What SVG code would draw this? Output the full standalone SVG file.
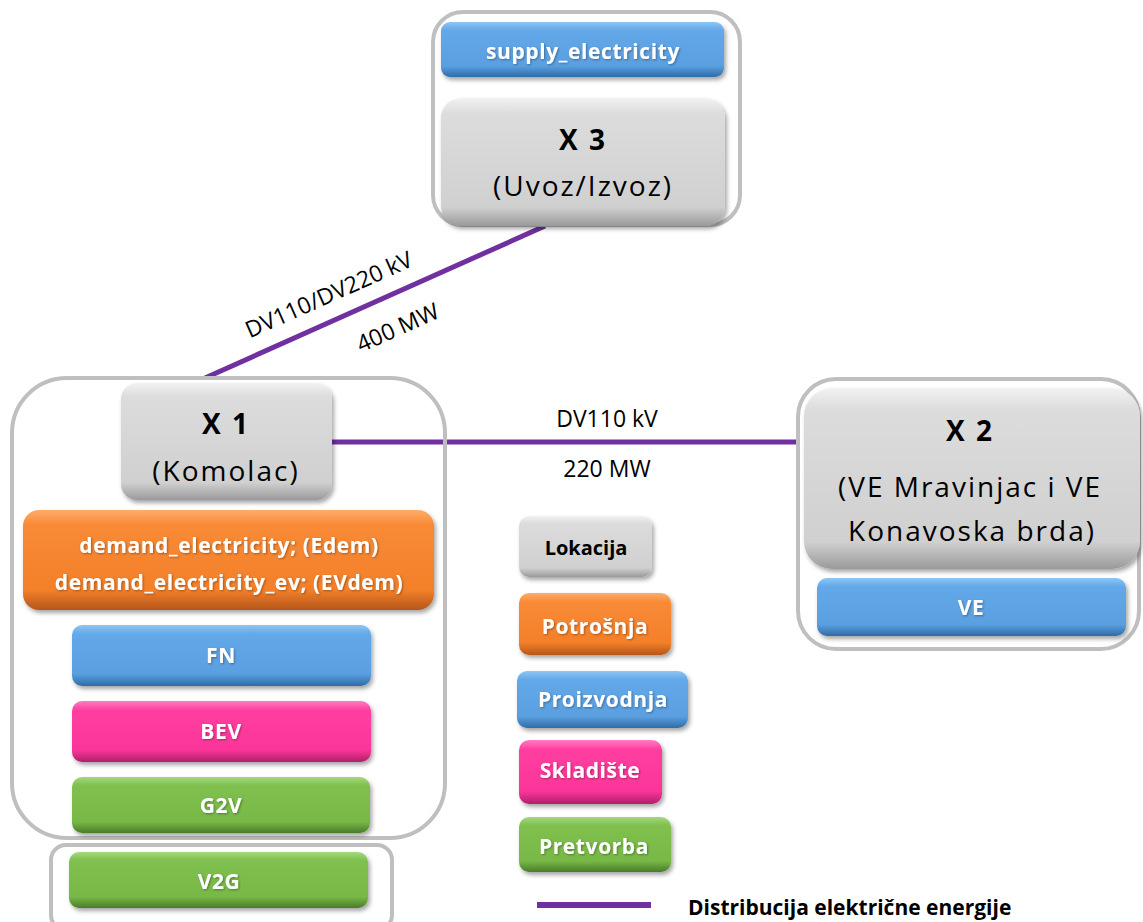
<svg xmlns="http://www.w3.org/2000/svg" width="1143" height="922" viewBox="0 0 1143 922">
<style>
.cont{fill:none;stroke:#bfbfbf;stroke-width:4}
.t{font-family:"Open Sans","Liberation Sans",sans-serif;text-anchor:middle}
.b{font-weight:bold}
.big{font-size:28px;letter-spacing:2px}
.w{fill:#ffffff;font-weight:bold;font-size:21px;letter-spacing:0.6px}
.k{fill:#000000}
.conn{stroke:#7030a0;stroke-width:5;fill:none}
.lbl{font-family:"Open Sans","Liberation Sans",sans-serif;font-size:23px;fill:#000;text-anchor:middle}
</style>
<defs>
<filter id="sh" x="-10%" y="-10%" width="125%" height="135%">
<feDropShadow dx="2" dy="3" stdDeviation="2" flood-color="#000" flood-opacity="0.35"/>
</filter>
<filter id="ts" x="-10%" y="-20%" width="130%" height="150%">
<feDropShadow dx="1" dy="1" stdDeviation="0.8" flood-color="#000" flood-opacity="0.35"/>
</filter>
<linearGradient id="gGray" x1="0" y1="0" x2="0" y2="1">
<stop offset="0" stop-color="#f2f2f2"/><stop offset="0.12" stop-color="#dcdcdc"/><stop offset="0.85" stop-color="#d0d0d0"/><stop offset="1" stop-color="#9a9a9a"/>
</linearGradient>
<linearGradient id="gBlue" x1="0" y1="0" x2="0" y2="1">
<stop offset="0" stop-color="#8cc6f4"/><stop offset="0.15" stop-color="#63a8e8"/><stop offset="0.8" stop-color="#5a9fe0"/><stop offset="1" stop-color="#2f6ca6"/>
</linearGradient>
<linearGradient id="gOrange" x1="0" y1="0" x2="0" y2="1">
<stop offset="0" stop-color="#ffac6a"/><stop offset="0.15" stop-color="#f88a36"/><stop offset="0.8" stop-color="#f4802a"/><stop offset="1" stop-color="#b5561a"/>
</linearGradient>
<linearGradient id="gPink" x1="0" y1="0" x2="0" y2="1">
<stop offset="0" stop-color="#ff7cc0"/><stop offset="0.15" stop-color="#ff3ea0"/><stop offset="0.8" stop-color="#fc359a"/><stop offset="1" stop-color="#b0206a"/>
</linearGradient>
<linearGradient id="gGreen" x1="0" y1="0" x2="0" y2="1">
<stop offset="0" stop-color="#a6d87c"/><stop offset="0.15" stop-color="#7fc04f"/><stop offset="0.8" stop-color="#78b846"/><stop offset="1" stop-color="#4a7c2a"/>
</linearGradient>
</defs>
<rect width="1143" height="922" fill="#ffffff"/>

<g id="connectors">
<line class="conn" x1="545" y1="226" x2="205" y2="378"/>
<line class="conn" x1="330" y1="442" x2="799" y2="442"/>
<text class="lbl" transform="translate(332,302) rotate(-24)">DV110/DV220 kV</text>
<text class="lbl" transform="translate(401,335) rotate(-24)">400 MW</text>
<text class="lbl" x="607" y="427">DV110 kV</text>
<text class="lbl" x="607" y="477">220 MW</text>
</g>

<g id="x3">
<rect class="cont" x="433" y="12" width="307" height="213" rx="30"/>
<rect x="441" y="22" width="283" height="55" rx="9" fill="url(#gBlue)" filter="url(#sh)"/>
<text class="t w" x="583" y="59" filter="url(#ts)">supply_electricity</text>
<rect x="441" y="98" width="284" height="128" rx="20" fill="url(#gGray)" filter="url(#sh)"/>
<text class="t b k big" x="583" y="150">X 3</text>
<text class="t k big" x="583" y="196">(Uvoz/Izvoz)</text>
</g>

<g id="x1">
<rect class="cont" x="12" y="378" width="433" height="460" rx="55"/>
<rect x="121" y="383" width="211" height="117" rx="16" fill="url(#gGray)" filter="url(#sh)"/>
<text class="t b k big" x="226" y="434">X 1</text>
<text class="t k big" x="226" y="481">(Komolac)</text>
</g>

<g id="demand">
<rect x="23" y="510" width="411" height="100" rx="16" fill="url(#gOrange)" filter="url(#sh)"/>
<text class="t w" x="229" y="553" filter="url(#ts)">demand_electricity; (Edem)</text>
<text class="t w" x="229" y="590" filter="url(#ts)">demand_electricity_ev; (EVdem)</text>
</g>

<g id="fn">
<rect x="72" y="625" width="299" height="61" rx="10" fill="url(#gBlue)" filter="url(#sh)"/>
<text class="t w" x="221" y="663" filter="url(#ts)">FN</text>
</g>

<g id="bev">
<rect x="72" y="701" width="299" height="61" rx="10" fill="url(#gPink)" filter="url(#sh)"/>
<text class="t w" x="221" y="739" filter="url(#ts)">BEV</text>
</g>

<g id="g2v">
<rect x="72" y="777" width="298" height="56" rx="10" fill="url(#gGreen)" filter="url(#sh)"/>
<text class="t w" x="221" y="813" filter="url(#ts)">G2V</text>
</g>

<g id="v2g">
<rect class="cont" x="51" y="845" width="341" height="85" rx="15"/>
<rect x="69" y="852" width="299" height="56" rx="10" fill="url(#gGreen)" filter="url(#sh)"/>
<text class="t w" x="219" y="889" filter="url(#ts)">V2G</text>
</g>

<g id="x2">
<rect class="cont" x="798" y="379" width="341" height="270" rx="38"/>
<rect x="804" y="388" width="336" height="181" rx="28" fill="url(#gGray)" filter="url(#sh)"/>
<text class="t b k big" x="970" y="441">X 2</text>
<text class="t k big" x="970" y="497">(VE Mravinjac i VE</text>
<text class="t k big" x="972" y="541">Konavoska  brda)</text>
</g>

<g id="ve">
<rect x="817" y="578" width="309" height="58" rx="10" fill="url(#gBlue)" filter="url(#sh)"/>
<text class="t w" x="971" y="615" filter="url(#ts)">VE</text>
</g>

<g id="legend">
<rect x="519" y="516" width="133" height="61" rx="10" fill="url(#gGray)" filter="url(#sh)"/>
<text class="t b k" x="586" y="555" font-size="20">Lokacija</text>
<rect x="519" y="593" width="152" height="62" rx="10" fill="url(#gOrange)" filter="url(#sh)"/>
<text class="t w" x="595" y="634" filter="url(#ts)">Potrošnja</text>
<rect x="517" y="671" width="171" height="57" rx="10" fill="url(#gBlue)" filter="url(#sh)"/>
<text class="t w" x="603" y="707" filter="url(#ts)">Proizvodnja</text>
<rect x="519" y="740" width="143" height="64" rx="10" fill="url(#gPink)" filter="url(#sh)"/>
<text class="t w" x="590" y="778" filter="url(#ts)">Skladište</text>
<rect x="519" y="817" width="152" height="55" rx="10" fill="url(#gGreen)" filter="url(#sh)"/>
<text class="t w" x="594" y="854" filter="url(#ts)">Pretvorba</text>
<line x1="537" y1="905" x2="651" y2="905" stroke="#7030a0" stroke-width="6"/>
<text x="688" y="915" font-family="'Open Sans','Liberation Sans',sans-serif" font-weight="bold" font-size="21" fill="#000">Distribucija električne energije</text>
</g>
</svg>
